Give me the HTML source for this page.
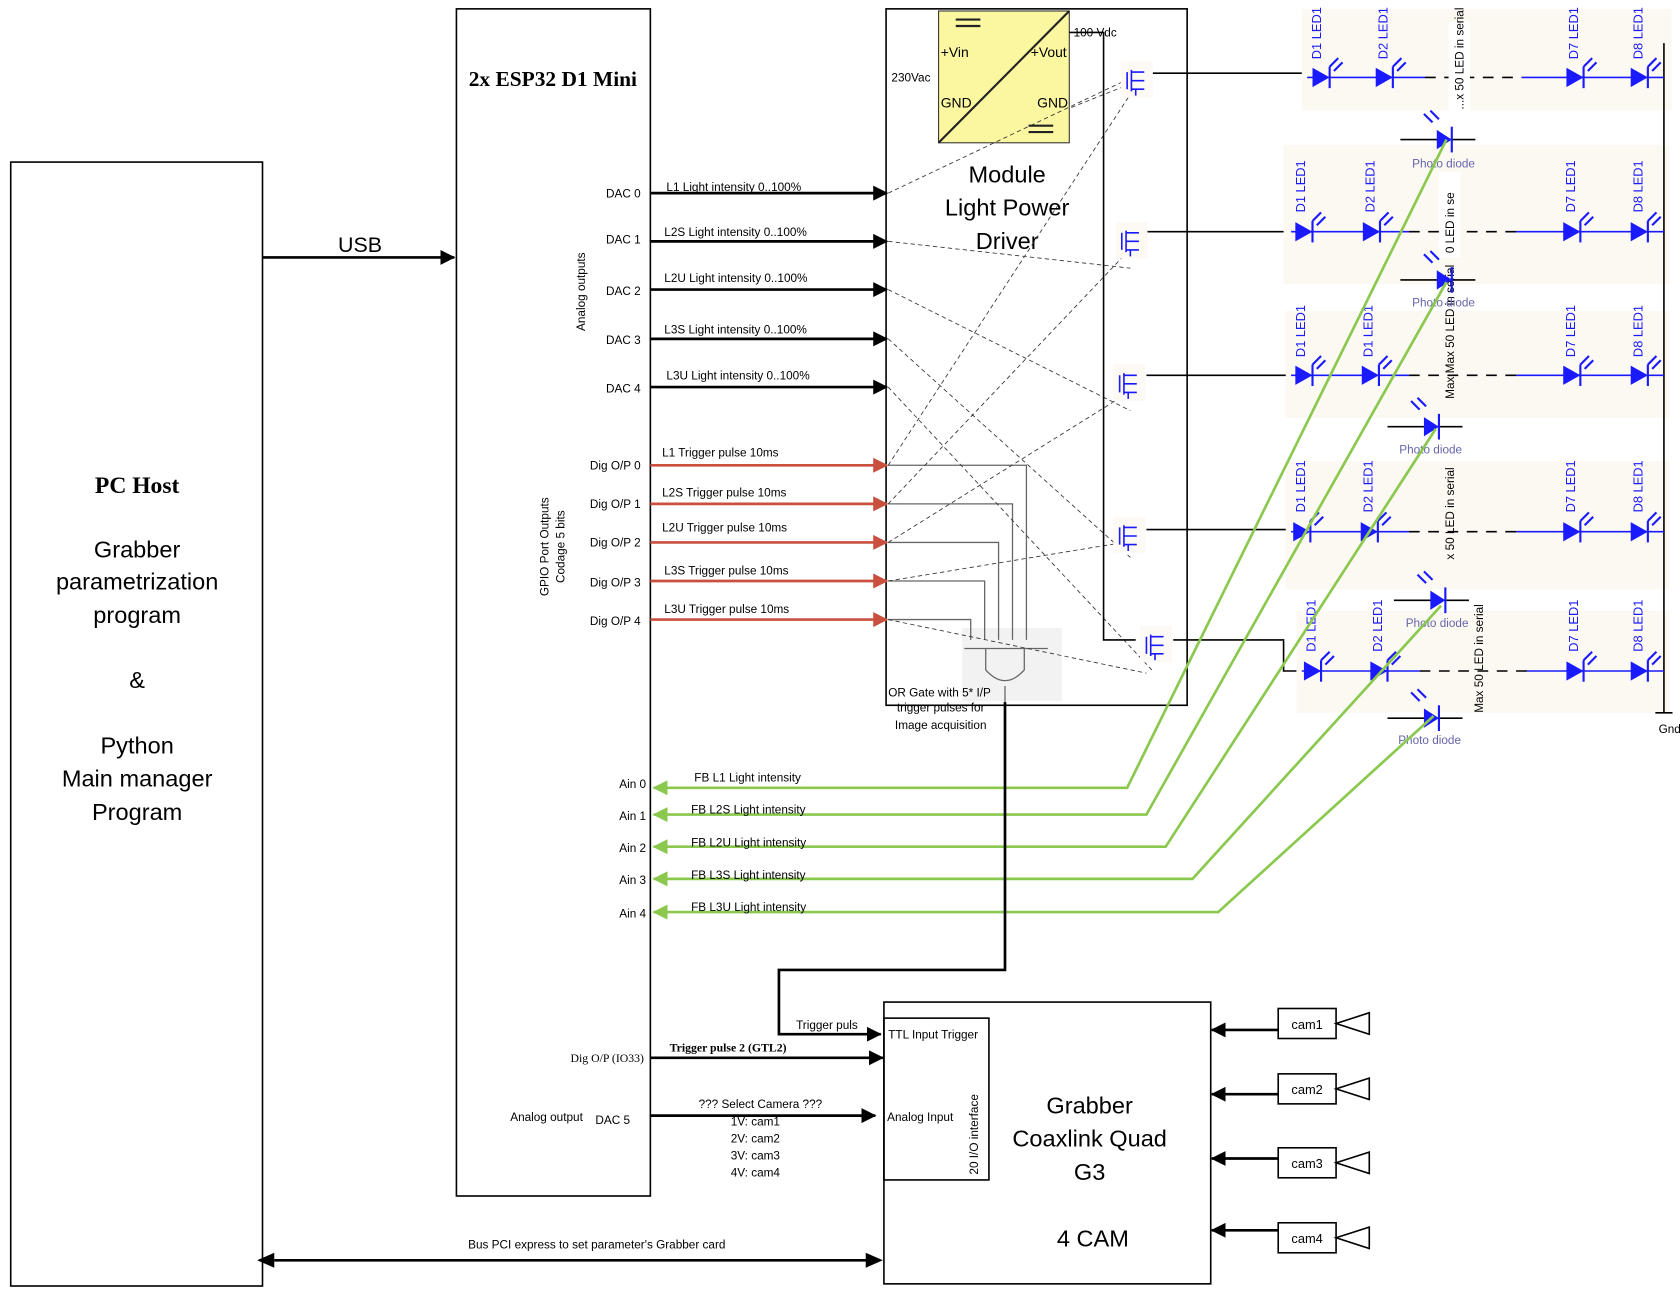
<!DOCTYPE html>
<html><head><meta charset="utf-8"><style>
html,body{margin:0;padding:0;background:#fff}
svg{display:block}
text{font-family:"Liberation Sans",sans-serif}
.s{font-family:"Liberation Serif",serif}
</style></head><body>
<svg width="1680" height="1297" viewBox="0 0 1568 1210" xmlns="http://www.w3.org/2000/svg">
<defs>
<marker id="ak" markerWidth="14" markerHeight="14" refX="13" refY="7" orient="auto" markerUnits="userSpaceOnUse"><path d="M0,0L14,7L0,14z" fill="#000"/></marker>
<marker id="ar" markerWidth="14" markerHeight="14" refX="13" refY="7" orient="auto" markerUnits="userSpaceOnUse"><path d="M0,0L14,7L0,14z" fill="#c9503f"/></marker>
<marker id="ag" markerWidth="14" markerHeight="14" refX="13" refY="7" orient="auto" markerUnits="userSpaceOnUse"><path d="M0,0L14,7L0,14z" fill="#8bc84e"/></marker>
<g id="led"><path d="M-8,-9L8,0L-8,9z" fill="#1a1aff"/><line x1="8" y1="-10" x2="8" y2="10" stroke="#1a1aff" stroke-width="2"/><line x1="8" y1="-10" x2="16" y2="-18" stroke="#1a1aff" stroke-width="2"/><line x1="12" y1="-6" x2="20" y2="-14" stroke="#1a1aff" stroke-width="2"/></g>
<g id="mos"><rect x="-14" y="-18" width="30" height="34" fill="#fdfaf5"/><path d="M-8,-8V8M-4,-10V10M-4,-8H8M-4,0H8M-4,8H8M0,8V14" stroke="#1a1aff" stroke-width="1.5" fill="none"/></g>
<g id="pd"><line x1="-40" y1="0" x2="30" y2="0" stroke="#000" stroke-width="1.5"/><path d="M-6,-9L8,0L-6,9z" fill="#1a1aff"/><line x1="8" y1="-12" x2="8" y2="12" stroke="#1a1aff" stroke-width="2"/><line x1="-18" y1="-24" x2="-10" y2="-16" stroke="#1a1aff" stroke-width="2"/><line x1="-12" y1="-27" x2="-4" y2="-19" stroke="#1a1aff" stroke-width="2"/></g>
</defs>

<rect x="10" y="151" width="235" height="1049" fill="none" stroke="#000" stroke-width="1.5"/>
<text x="128" y="460" font-size="22" text-anchor="middle" class="s" font-weight="bold">PC Host</text>
<g font-size="22" text-anchor="middle">
<text x="128" y="520">Grabber</text><text x="128" y="550">parametrization</text><text x="128" y="581">program</text>
<text x="128" y="642">&amp;</text><text x="128" y="703">Python</text><text x="128" y="734">Main manager</text><text x="128" y="765">Program</text></g>
<line x1="245" y1="240" x2="424" y2="240" stroke="#000" stroke-width="2.5" marker-end="url(#ak)"/>
<text x="336" y="235" font-size="20" text-anchor="middle">USB</text>

<rect x="426" y="8" width="181" height="1108" fill="none" stroke="#000" stroke-width="1.5"/>
<text x="516" y="80" font-size="20" text-anchor="middle" class="s" font-weight="bold">2x ESP32 D1 Mini</text>
<text transform="translate(546,272) rotate(-90)" font-size="11" text-anchor="middle">Analog outputs</text>
<text transform="translate(512,510) rotate(-90)" font-size="11" text-anchor="middle">GPIO Port Outputs</text>
<text transform="translate(527,510) rotate(-90)" font-size="11" text-anchor="middle">Codage 5 bits</text>

<g font-size="11" text-anchor="end">
<text x="598" y="184">DAC 0</text><text x="598" y="227">DAC 1</text><text x="598" y="275">DAC 2</text><text x="598" y="321">DAC 3</text><text x="598" y="366">DAC 4</text>
<text x="598" y="438">Dig O/P 0</text><text x="598" y="474">Dig O/P 1</text><text x="598" y="510">Dig O/P 2</text><text x="598" y="547">Dig O/P 3</text><text x="598" y="583">Dig O/P 4</text>
<text x="603" y="735">Ain 0</text><text x="603" y="765">Ain 1</text><text x="603" y="795">Ain 2</text><text x="603" y="825">Ain 3</text><text x="603" y="856">Ain 4</text>
<text x="601" y="991" class="s">Dig O/P (IO33)</text><text x="588" y="1049">DAC 5</text><text x="544" y="1046">Analog output</text>
</g>

<rect x="827" y="8" width="281" height="650" fill="none" stroke="#000" stroke-width="1.5"/>
<rect x="876" y="10" width="122" height="123" fill="#fbf7a0" stroke="#333"/>
<line x1="876" y1="133" x2="998" y2="10" stroke="#222" stroke-width="2"/>
<path d="M892,18H915M892,24H915M960,117H983M960,123H983" stroke="#222" stroke-width="2"/>
<g font-size="13"><text x="878" y="53">+Vin</text><text x="962" y="53">+Vout</text><text x="878" y="100">GND</text><text x="968" y="100">GND</text>
<text x="832" y="76" font-size="11">230Vac</text><text x="1002" y="34" font-size="11">100 Vdc</text></g>
<g font-size="22" text-anchor="middle"><text x="940" y="170">Module</text><text x="940" y="201">Light Power</text><text x="940" y="232">Driver</text></g>
<rect x="898" y="586" width="93" height="68" fill="#f2f2f2"/>
<text x="829" y="650" font-size="11">OR Gate with 5* I/P</text>
<text x="878" y="664" font-size="11" text-anchor="middle">trigger pulses for</text>
<text x="878" y="680" font-size="11" text-anchor="middle">Image acquisition</text>

<g stroke="#000" stroke-width="2.5" marker-end="url(#ak)">
<line x1="607" y1="180" x2="828" y2="180"/><line x1="607" y1="225" x2="828" y2="225"/><line x1="607" y1="270" x2="828" y2="270"/><line x1="607" y1="316" x2="828" y2="316"/><line x1="607" y1="361" x2="828" y2="361"/></g>
<g font-size="11"><text x="622" y="178">L1 Light intensity 0..100%</text><text x="620" y="220">L2S Light intensity 0..100%</text><text x="620" y="263">L2U Light intensity 0..100%</text><text x="620" y="311">L3S Light intensity 0..100%</text><text x="622" y="354">L3U Light intensity 0..100%</text>
<text x="618" y="426">L1 Trigger pulse 10ms</text><text x="618" y="463">L2S Trigger pulse 10ms</text><text x="618" y="496">L2U Trigger pulse 10ms</text><text x="620" y="536">L3S Trigger pulse 10ms</text><text x="620" y="572">L3U Trigger pulse 10ms</text></g>
<g stroke="#c9503f" stroke-width="2.5" marker-end="url(#ar)">
<line x1="607" y1="434" x2="828" y2="434"/><line x1="607" y1="470" x2="828" y2="470"/><line x1="607" y1="506" x2="828" y2="506"/><line x1="607" y1="542" x2="828" y2="542"/><line x1="607" y1="578" x2="828" y2="578"/></g>
<g stroke="#666" stroke-width="1.2" fill="none">
<path d="M829,434H958V597"/><path d="M829,470H945V597"/><path d="M829,506H932V597"/><path d="M829,542H919V597"/><path d="M829,578H906V597"/>
<path d="M900,605H978M920,605V625Q938,645 956,625V605M938,640V655"/></g>
<g stroke="#333" stroke-width="0.8" stroke-dasharray="4,3" fill="none">
<path d="M829,180L1050,75M829,225L1055,250M829,270L1055,383M829,316L1055,520M829,361L1075,625M829,434L1060,80M829,470L1055,232M829,506L1055,365M829,542L1055,505M829,578L1070,628M1000,100L1050,80"/></g>

<g stroke="#000" stroke-width="1.5" fill="none">
<path d="M998,30H1030V597H1060"/>
<path d="M1075,68H1220M1070,216H1205M1070,350H1205M1070,494H1205M1095,597H1198V626H1215"/></g>
<use href="#mos" x="1060" y="75"/><use href="#mos" x="1055" y="225"/><use href="#mos" x="1053" y="358"/><use href="#mos" x="1053" y="500"/><use href="#mos" x="1078" y="602"/>

<g fill="#fcf9f2"><rect x="1215" y="8" width="185" height="95"/><rect x="1400" y="8" width="160" height="95"/>
<rect x="1198" y="135" width="200" height="130"/><rect x="1398" y="135" width="160" height="130"/>
<rect x="1200" y="290" width="200" height="100"/><rect x="1400" y="290" width="158" height="100"/>
<rect x="1200" y="430" width="200" height="120"/><rect x="1400" y="430" width="158" height="120"/>
<rect x="1210" y="570" width="190" height="95"/><rect x="1400" y="570" width="158" height="95"/></g>
<g stroke="#000" stroke-width="1.5"><line x1="1553" y1="40" x2="1553" y2="665"/><line x1="1545" y1="665" x2="1561" y2="665"/></g>
<text x="1548" y="684" font-size="11">Gnd</text>
<g stroke="#1a1aff" stroke-width="1.5">
<line x1="1220" y1="72" x2="1330" y2="72"/><line x1="1420" y1="72" x2="1553" y2="72"/>
<line x1="1205" y1="216" x2="1315" y2="216"/><line x1="1415" y1="216" x2="1553" y2="216"/>
<line x1="1205" y1="350" x2="1315" y2="350"/><line x1="1415" y1="350" x2="1553" y2="350"/>
<line x1="1205" y1="496" x2="1315" y2="496"/><line x1="1415" y1="496" x2="1553" y2="496"/>
<line x1="1215" y1="626" x2="1325" y2="626"/><line x1="1425" y1="626" x2="1553" y2="626"/></g>
<g stroke="#000" stroke-width="1.5" stroke-dasharray="10,8">
<line x1="1330" y1="72" x2="1420" y2="72"/><line x1="1315" y1="216" x2="1415" y2="216"/><line x1="1315" y1="350" x2="1415" y2="350"/><line x1="1315" y1="496" x2="1415" y2="496"/><line x1="1325" y1="626" x2="1425" y2="626"/></g>
<g>
<use href="#led" x="1233" y="72"/><use href="#led" x="1292" y="72"/><use href="#led" x="1470" y="72"/><use href="#led" x="1530" y="72"/>
<use href="#led" x="1217" y="216"/><use href="#led" x="1280" y="216"/><use href="#led" x="1467" y="216"/><use href="#led" x="1530" y="216"/>
<use href="#led" x="1217" y="350"/><use href="#led" x="1279" y="350"/><use href="#led" x="1467" y="350"/><use href="#led" x="1530" y="350"/>
<use href="#led" x="1215" y="496"/><use href="#led" x="1278" y="496"/><use href="#led" x="1467" y="496"/><use href="#led" x="1530" y="496"/>
<use href="#led" x="1225" y="626"/><use href="#led" x="1287" y="626"/><use href="#led" x="1470" y="626"/><use href="#led" x="1530" y="626"/></g>
<g font-size="12" class="s" fill="#1a1aff">
<text transform="translate(1233,55) rotate(-90)">D1 LED1</text><text transform="translate(1295,55) rotate(-90)">D2 LED1</text><text transform="translate(1473,55) rotate(-90)">D7 LED1</text><text transform="translate(1533,55) rotate(-90)">D8 LED1</text>
<text transform="translate(1218,198) rotate(-90)">D1 LED1</text><text transform="translate(1283,198) rotate(-90)">D2 LED1</text><text transform="translate(1470,198) rotate(-90)">D7 LED1</text><text transform="translate(1533,198) rotate(-90)">D8 LED1</text>
<text transform="translate(1218,333) rotate(-90)">D1 LED1</text><text transform="translate(1281,333) rotate(-90)">D1 LED1</text><text transform="translate(1470,333) rotate(-90)">D7 LED1</text><text transform="translate(1533,333) rotate(-90)">D8 LED1</text>
<text transform="translate(1218,478) rotate(-90)">D1 LED1</text><text transform="translate(1281,478) rotate(-90)">D2 LED1</text><text transform="translate(1470,478) rotate(-90)">D7 LED1</text><text transform="translate(1533,478) rotate(-90)">D8 LED1</text>
<text transform="translate(1228,608) rotate(-90)">D1 LED1</text><text transform="translate(1290,608) rotate(-90)">D2 LED1</text><text transform="translate(1473,608) rotate(-90)">D7 LED1</text><text transform="translate(1533,608) rotate(-90)">D8 LED1</text></g>
<g font-size="11" class="s">
<rect x="1352" y="20" width="20" height="85" fill="#fff"/><text transform="translate(1366,102) rotate(-90)">...x 50 LED in serial</text>
<rect x="1343" y="160" width="20" height="80" fill="#fff"/><text transform="translate(1357,236) rotate(-90)">0 LED in se</text>
<text transform="translate(1357,372) rotate(-90)">Max.Max 50 LED in serial</text>
<text transform="translate(1357,522) rotate(-90)">x 50 LED in serial</text>
<text transform="translate(1384,665) rotate(-90)">Max 50 LED in serial</text></g>
<g><use href="#pd" x="1347" y="130"/><use href="#pd" x="1347" y="261"/><use href="#pd" x="1335" y="398"/><use href="#pd" x="1341" y="560"/><use href="#pd" x="1335" y="670"/></g>
<g font-size="11" class="s" fill="#6666aa"><text x="1318" y="156">Photo diode</text><text x="1318" y="286">Photo diode</text><text x="1306" y="423">Photo diode</text><text x="1312" y="585">Photo diode</text><text x="1305" y="694">Photo diode</text></g>

<g stroke="#8bc84e" stroke-width="2.5" fill="none" marker-end="url(#ag)">
<path d="M1350,130L1052,735H610"/><path d="M1350,263L1070,760H610"/><path d="M1340,400L1088,790H610"/><path d="M1345,565L1113,820H610"/><path d="M1338,668L1137,851H610"/></g>
<g font-size="11"><text x="648" y="729">FB L1 Light intensity</text><text x="645" y="759">FB L2S Light intensity</text><text x="645" y="790">FB L2U Light intensity</text><text x="645" y="820">FB L3S Light intensity</text><text x="645" y="850">FB L3U Light intensity</text></g>

<path d="M938,655V905H727V965H822" stroke="#000" stroke-width="2.5" fill="none" marker-end="url(#ak)"/>
<text x="743" y="960" font-size="11">Trigger puls</text>
<line x1="607" y1="987" x2="824" y2="987" stroke="#000" stroke-width="2.5" marker-end="url(#ak)"/>
<text x="625" y="981" font-size="11" class="s" font-weight="bold">Trigger pulse 2 (GTL2)</text>
<line x1="607" y1="1041" x2="817" y2="1041" stroke="#000" stroke-width="2.5" marker-end="url(#ak)"/>
<g font-size="11"><text x="652" y="1034">??? Select Camera ???</text><text x="682" y="1050">1V:  cam1</text><text x="682" y="1066">2V:  cam2</text><text x="682" y="1082">3V:  cam3</text><text x="682" y="1098">4V:  cam4</text></g>

<rect x="825" y="935" width="305" height="263" fill="none" stroke="#000" stroke-width="1.5"/>
<rect x="825" y="950" width="98" height="151" fill="none" stroke="#000" stroke-width="1.5"/>
<text x="829" y="969" font-size="11">TTL Input Trigger</text><text x="828" y="1046" font-size="11">Analog Input</text>
<text transform="translate(913,1096) rotate(-90)" font-size="11">20 I/O interface</text>
<g font-size="22" text-anchor="middle"><text x="1017" y="1039">Grabber</text><text x="1017" y="1070">Coaxlink Quad</text><text x="1017" y="1101">G3</text><text x="1020" y="1163">4 CAM</text></g>
<g stroke="#000" stroke-width="1.5" fill="none">
<rect x="1193" y="941" width="54" height="28"/><path d="M1247,955L1278,945V965z"/>
<rect x="1193" y="1002" width="54" height="28"/><path d="M1247,1016L1278,1006V1026z"/>
<rect x="1193" y="1071" width="54" height="28"/><path d="M1247,1085L1278,1075V1095z"/>
<rect x="1193" y="1141" width="54" height="28"/><path d="M1247,1155L1278,1145V1165z"/></g>
<g font-size="12" text-anchor="middle"><text x="1220" y="960">cam1</text><text x="1220" y="1021">cam2</text><text x="1220" y="1090">cam3</text><text x="1220" y="1160">cam4</text></g>
<g stroke="#000" stroke-width="2.5" marker-end="url(#ak)">
<line x1="1193" y1="961" x2="1131" y2="961"/><line x1="1193" y1="1021" x2="1131" y2="1021"/><line x1="1193" y1="1081" x2="1131" y2="1081"/><line x1="1193" y1="1148" x2="1131" y2="1148"/></g>

<line x1="256" y1="1176" x2="812" y2="1176" stroke="#000" stroke-width="2.5"/>
<path d="M240,1176L256,1169V1183z M824,1176L808,1169V1183z" fill="#000"/>
<text x="557" y="1165" font-size="11" text-anchor="middle">Bus PCI express to set parameter's  Grabber card</text>
</svg>
</body></html>
